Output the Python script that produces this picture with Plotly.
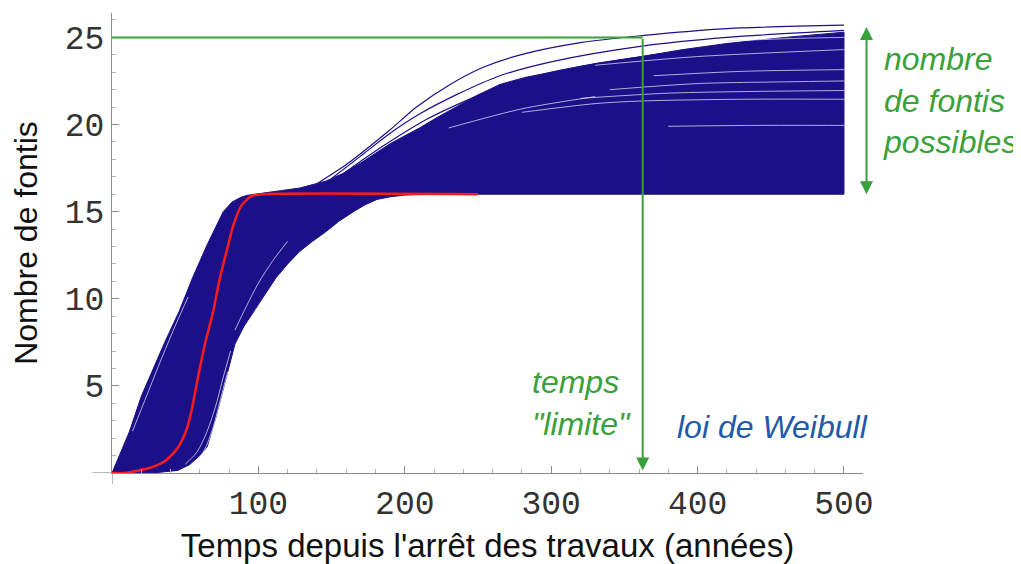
import plotly.graph_objects as go

# ---------------- data ----------------
# dense band of Weibull curves: upper (left/top) envelope
band_upper_x = [0, 6, 12, 20, 26, 36, 46, 55, 65, 70, 76, 82, 88, 92, 97, 102, 115, 128,
                146, 158, 170, 180, 190, 200, 210, 222, 235, 250, 265, 282, 300, 330, 362,
                390, 420, 460, 500]
band_upper_y = [0, 1.2, 2.4, 4.4, 5.6, 7.5, 9.3, 11.2, 13.1, 14.0, 15.0, 15.55, 15.82,
                15.93, 16.0, 16.05, 16.2, 16.35, 16.75, 17.2, 17.8, 18.35, 18.9, 19.35, 19.8,
                20.4, 21.0, 21.7, 22.3, 22.7, 23.0, 23.5, 23.9, 24.3, 24.65, 25.0, 25.3]
# lower (right/bottom) envelope
band_lower_x = [0, 30, 45, 53, 60, 65, 71, 75, 79, 84, 90, 98, 105, 112, 120, 128, 137,
                146, 155, 165, 173, 181, 190, 200, 215, 235, 500]
band_lower_y = [0, 0.02, 0.15, 0.48, 1.0, 1.5, 3.2, 4.5, 5.8, 7.4, 8.4, 9.4, 10.3, 11.2,
                12.0, 12.7, 13.3, 13.84, 14.45, 15.0, 15.4, 15.7, 15.85, 15.95, 16.0, 16.0, 16.0]

# individual curves standing out above the band
top_curves_x = [
    [140, 160, 190, 208, 231, 254, 279, 320, 362, 420, 500],
    [150, 170, 190, 210, 235, 265, 300, 362, 420, 500],
    [155, 175, 195, 215, 240, 270, 300, 362, 430, 500],
    [160, 180, 200, 220, 245, 275, 310, 362, 430, 500],
]
top_curves_y = [
    [16.6, 17.7, 19.7, 21.0, 22.3, 23.3, 24.0, 24.7, 25.1, 25.5, 25.7],
    [16.9, 18.2, 19.5, 20.6, 21.7, 22.8, 23.6, 24.5, 25.0, 25.4],
    [17.0, 18.2, 19.3, 20.3, 21.3, 22.3, 23.0, 23.9, 24.6, 24.9],
    [17.2, 18.2, 19.1, 20.0, 20.9, 21.8, 22.6, 23.4, 24.0, 24.3],
]

# light gaps between curves inside the band
gap_curves_x = [
    [280, 330, 362, 430, 500],
    [320, 380, 440, 500],
    [340, 400, 460, 500],
    [370, 430, 500],
    [380, 440, 500],
    [330, 400, 500],
    [420, 470, 500],
    [230, 280, 330],
    [14, 24, 34, 44, 52],
    [50, 58, 65, 71, 76, 81],
    [56, 63, 69, 74, 79],
    [84, 92, 100, 110, 120],
]
gap_curves_y = [
    [20.7, 21.2, 21.35, 21.45, 21.45],
    [21.5, 21.8, 21.9, 21.95],
    [22.0, 22.35, 22.45, 22.5],
    [22.8, 23.05, 23.15],
    [19.9, 19.95, 19.95],
    [23.4, 23.9, 24.3],
    [24.8, 24.95, 25.0],
    [19.8, 20.9, 21.6],
    [2.4, 4.5, 6.6, 8.6, 10.1],
    [0.5, 1.2, 2.4, 3.9, 5.5, 7.0],
    [0.5, 1.3, 2.6, 4.2, 5.8],
    [8.2, 9.6, 10.9, 12.2, 13.3],
]

# reference (red) curve
red_x = [0, 9, 26, 36, 44, 50, 54.4, 57.8, 63.5, 69.2, 73.7, 79.4, 82.8, 88.5, 95.4, 103, 250]
red_y = [0, 0.0, 0.3, 0.67, 1.33, 2.28, 3.6, 5.1, 7.4, 9.3, 11.2, 13.1, 14.2, 15.36, 15.9, 16.0, 16.0]

# "temps limite" and number of possible fontis
t_limit = 362.5
n_max_line = 25
n_range = [16, 25.6]

x_ticks = [100, 200, 300, 400, 500]
y_ticks = [5, 10, 15, 20, 25]

# ---------------- figure ----------------
NAVY = "#1c1088"
GREEN = "#3aa13a"
RED = "#ff1a1a"
BLUE_TXT = "#1f5aa8"

fig = go.Figure()

fig.add_trace(go.Scatter(
    x=band_upper_x + band_lower_x[::-1],
    y=band_upper_y + band_lower_y[::-1],
    mode="lines", fill="toself", fillcolor=NAVY,
    line=dict(color=NAVY, width=1),
    hoverinfo="skip", showlegend=False))

for cx, cy in zip(top_curves_x, top_curves_y):
    fig.add_trace(go.Scatter(x=cx, y=cy, mode="lines",
                             line=dict(color=NAVY, width=1.2, shape="spline", smoothing=0.8),
                             hoverinfo="skip", showlegend=False))

for cx, cy in zip(gap_curves_x, gap_curves_y):
    fig.add_trace(go.Scatter(x=cx, y=cy, mode="lines",
                             line=dict(color="rgba(225,225,245,0.75)", width=1, shape="spline",
                                       smoothing=0.8),
                             hoverinfo="skip", showlegend=False))

fig.add_trace(go.Scatter(x=red_x, y=red_y, mode="lines",
                         line=dict(color=RED, width=2.5, shape="spline", smoothing=0.6),
                         hoverinfo="skip", showlegend=False))

AXC = "#8a8a8a"
tick_font = dict(family="Liberation Mono, Courier New, monospace", size=33, color="#333")

fig.update_layout(
    width=1013, height=556,
    margin=dict(l=104, r=157.5, t=5, b=87),
    paper_bgcolor="white", plot_bgcolor="white",
    xaxis=dict(range=[0, 513], showline=True, linecolor=AXC, linewidth=1.2,
               showgrid=False, zeroline=False,
               ticks="inside", ticklen=7, tickcolor=AXC, tickwidth=1.2,
               tickmode="array", tickvals=x_ticks, ticktext=[str(v) for v in x_ticks],
               tickfont=tick_font,
               minor=dict(ticks="inside", ticklen=4, tickcolor="#b0b0b0", tickmode="linear",
                          tick0=0, dtick=20, showgrid=False),
               title=dict(text="Temps depuis l'arrêt des travaux (années)",
                          font=dict(family="Liberation Sans, Arial, sans-serif", size=33,
                                    color="#111"),
                          standoff=12)),
    yaxis=dict(range=[0, 26.4], showline=True, linecolor=AXC, linewidth=1.2,
               showgrid=False, zeroline=False,
               ticks="inside", ticklen=7, tickcolor=AXC, tickwidth=1.2,
               tickmode="array", tickvals=y_ticks, ticktext=[str(v) for v in y_ticks],
               tickfont=tick_font,
               minor=dict(ticks="inside", ticklen=4, tickcolor="#b0b0b0", tickmode="linear",
                          tick0=0, dtick=1, showgrid=False),
               title=dict(text="Nombre de fontis",
                          font=dict(family="Liberation Sans, Arial, sans-serif", size=32,
                                    color="#111"),
                          standoff=24)),
)

# axis extensions past the origin (Mathematica-style crossing axes)
fig.add_shape(type="line", xref="paper", yref="y", x0=-0.026, x1=0, y0=0, y1=0,
              line=dict(color=AXC, width=1.2))
fig.add_shape(type="line", xref="x", yref="paper", x0=0, x1=0, y0=-0.024, y1=0,
              line=dict(color=AXC, width=1.2))

# green horizontal line at the max number of fontis
fig.add_shape(type="line", xref="x", yref="y", x0=0, x1=t_limit, y0=n_max_line, y1=n_max_line,
              line=dict(color=GREEN, width=2))

# vertical arrow down to the "temps limite"
fig.add_annotation(x=t_limit, y=0.15, ax=t_limit, ay=n_max_line, xref="x", yref="y",
                   axref="x", ayref="y", text="", showarrow=True, arrowhead=2,
                   arrowsize=1.3, arrowwidth=2, arrowcolor=GREEN, standoff=0)

# double arrow: range of possible number of fontis
fig.add_annotation(x=1.0047, y=n_range[0], xref="paper", yref="y",
                   ax=0, ay=-(n_range[1] - n_range[0]) * 17.58, axref="pixel", ayref="pixel",
                   text="", showarrow=True, arrowhead=2, startarrowhead=2, arrowside="end+start",
                   arrowsize=1.3, startarrowsize=1.3, arrowwidth=2, arrowcolor=GREEN,
                   standoff=0, startstandoff=0)

ann_font = dict(family="Liberation Sans, Arial, sans-serif", size=32)
fig.add_annotation(x=1.0246, y=21.4, xref="paper", yref="y", xanchor="left", yanchor="middle",
                   text="<i>nombre<br>de fontis<br>possibles</i>", showarrow=False, align="left",
                   font=dict(color=GREEN, **ann_font))
fig.add_annotation(x=285.3, y=4.0, xref="x", yref="y", xanchor="left", yanchor="middle",
                   text="<i>temps<br>\"limite\"</i>", showarrow=False, align="left",
                   font=dict(color=GREEN, **ann_font))
fig.add_annotation(x=384.3, y=2.66, xref="x", yref="y", xanchor="left", yanchor="middle",
                   text="<i>loi de Weibull</i>", showarrow=False, align="left",
                   font=dict(color=BLUE_TXT, **ann_font))

fig.write_html("out.html")
